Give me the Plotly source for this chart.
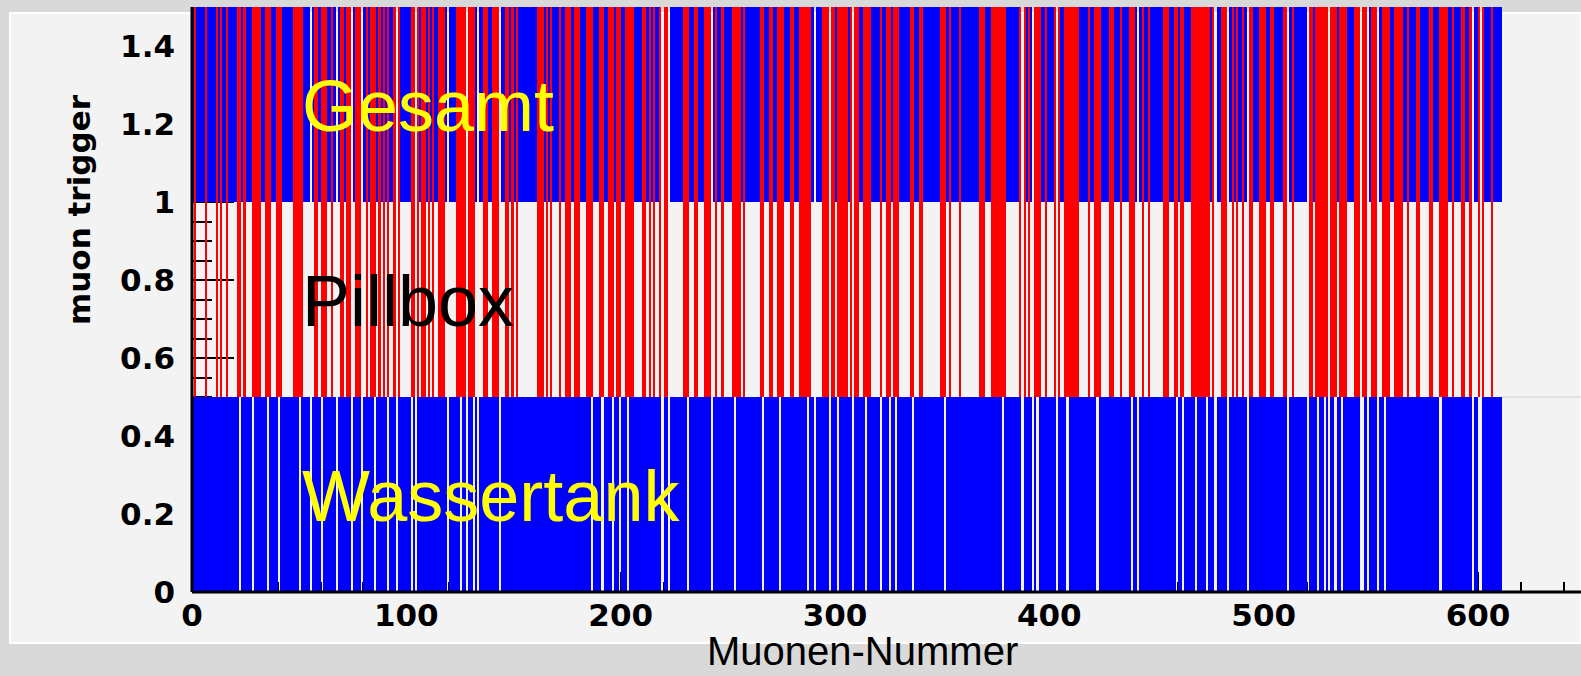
import plotly.graph_objects as go

# ---------------- data ----------------
N_MUONS = 611  # muon numbers 0 .. 610

# muon numbers WITHOUT a water-tank trigger (white gaps in the lower band)
tank_gaps = [22, 28, 35, 40, 50, 55, 60, 67, 74, 79, 85, 91, 95, 102, 104, 119,
             125, 128, 131, 133, 143, 186, 191, 196, 199, 203, 219, 222, 231,
             242, 253, 266, 274, 287, 290, 297, 301, 308, 314, 321, 325, 328,
             336, 351, 378, 387, 392, 394, 403, 408, 422, 438, 441, 459, 462,
             468, 473, 477, 483, 492, 511, 520, 525, 528, 530, 533, 536, 545,
             546, 548, 553, 556, 582, 597, 600, 601]

# pillbox triggers: runs of (first muon number, number of consecutive muons)
pillbox_runs = [(1, 1), (6, 1), (11, 1), (13, 1), (16, 1), (21, 2), (24, 1),
                (28, 4), (34, 3), (39, 3), (47, 2), (49, 3), (57, 2), (60, 3),
                (65, 1), (69, 2), (72, 2), (76, 3), (81, 1), (83, 3), (87, 1),
                (89, 1), (91, 1), (94, 1), (96, 1), (102, 2), (105, 1), (107, 2),
                (110, 1), (112, 1), (115, 3), (123, 4), (127, 1), (129, 3),
                (136, 2), (140, 3), (146, 2), (149, 1), (151, 1), (161, 3),
                (165, 1), (167, 1), (171, 1), (174, 3), (178, 3), (184, 3),
                (190, 2), (194, 3), (198, 2), (202, 4), (210, 2), (213, 1),
                (215, 1), (218, 1), (220, 2), (229, 3), (234, 2), (239, 3),
                (244, 1), (247, 1), (252, 4), (257, 1), (265, 2), (269, 2),
                (273, 3), (279, 2), (283, 6), (294, 3), (298, 2), (301, 5),
                (307, 1), (309, 2), (313, 4), (321, 1), (324, 2), (327, 3),
                (335, 2), (339, 2), (349, 3), (353, 1), (358, 1), (367, 3),
                (373, 7), (386, 1), (388, 1), (390, 1), (393, 3), (398, 1),
                (402, 1), (404, 1), (407, 7), (418, 1), (421, 3), (428, 2),
                (433, 1), (437, 3), (443, 1), (446, 1), (453, 3), (458, 2),
                (461, 2), (466, 9), (476, 1), (480, 3), (485, 1), (487, 1),
                (490, 1), (493, 2), (498, 3), (503, 2), (509, 2), (513, 1),
                (521, 2), (524, 6), (531, 3), (535, 4), (542, 3), (546, 2),
                (550, 3), (555, 2), (557, 2), (561, 4), (567, 1), (571, 2),
                (577, 2), (582, 4), (588, 1), (592, 2), (596, 1), (600, 1),
                (602, 1), (606, 1)]

band_labels = ["Wassertank", "Pillbox", "Gesamt"]
y_ticks = [0, 0.2, 0.4, 0.6, 0.8, 1.0, 1.2, 1.4]
y_ticktext = ["0", "0.2", "0.4", "0.6", "0.8", "1", "1.2", "1.4"]
x_ticks = [0, 100, 200, 300, 400, 500, 600]

# ---------------- derived per-muon flags ----------------
tank = [1] * N_MUONS
for g in tank_gaps:
    tank[g] = 0
pill = [0] * N_MUONS
for s, n in pillbox_runs:
    for i in range(s, s + n):
        pill[i] = 1
gesamt_blue = [1 if (tank[i] and not pill[i]) else 0 for i in range(N_MUONS)]


def runs(flags):
    """merge consecutive triggered muons into (start, length) runs"""
    out, i = [], 0
    while i < len(flags):
        if flags[i]:
            j = i
            while j < len(flags) and flags[j]:
                j += 1
            out.append((i, j - i))
            i = j
        else:
            i += 1
    return out


def bar(flags, base, color, name):
    r = runs(flags)
    return go.Bar(
        x=[s + n / 2 for s, n in r], width=[n for s, n in r],
        y=[0.5] * len(r), base=[base] * len(r),
        marker=dict(color=color, line=dict(width=0)),
        name=name, showlegend=False, hoverinfo="skip")


BLUE, RED = "#0000ff", "#ff0000"
fig = go.Figure()
fig.add_trace(bar(tank, 0.0, BLUE, "Wassertank"))
fig.add_trace(bar(pill, 0.5, RED, "Pillbox"))
fig.add_trace(bar(gesamt_blue, 1.0, BLUE, "Gesamt"))
fig.add_trace(bar(pill, 1.0, RED, "Gesamt"))

W, H = 1581, 676
L, R, T, B = 192, 0, 7, 84
pw, ph = W - L - R, H - T - B
XMAX = (W - L) / (1478 - L) * 600


def px(xpix):
    return (xpix - L) / pw


def py(ypix):
    return (H - B - ypix) / ph


tickfont = dict(family="DejaVu Sans", size=31, color="black", weight="bold")

fig.update_layout(
    width=W, height=H,
    margin=dict(l=L, r=R, t=T, b=B, pad=0, autoexpand=False),
    paper_bgcolor="#d9d9d9",
    plot_bgcolor="rgba(0,0,0,0)",
    barmode="overlay", bargap=0,
    xaxis=dict(range=[0, XMAX], showgrid=False, zeroline=False, automargin=False,
               showline=False, tickvals=x_ticks, ticks="inside", ticklen=20,
               tickwidth=2, tickcolor="black", layer="below traces",
               minor=dict(dtick=20, ticks="inside", ticklen=10, tickwidth=2,
                          tickcolor="black"),
               tickfont=tickfont, ticklabelstandoff=2, fixedrange=True),
    yaxis=dict(range=[0, 1.5], showgrid=False, zeroline=False, showline=False,
               automargin=False,
               tickvals=y_ticks, ticktext=y_ticktext, ticks="inside", ticklen=42,
               tickwidth=2, tickcolor="black", layer="below traces",
               minor=dict(dtick=0.05, ticks="inside", ticklen=20, tickwidth=2,
                          tickcolor="black"),
               tickfont=tickfont, ticklabelstandoff=16, fixedrange=True),
    shapes=[
        # light slide panel
        dict(type="rect", xref="paper", yref="paper", x0=px(10), x1=1.0,
             y0=py(643), y1=py(13), fillcolor="#f3f3f3",
             line=dict(color="white", width=2), layer="below"),
        # axis lines
        dict(type="line", xref="paper", yref="paper", x0=0, x1=1, y0=0, y1=0,
             line=dict(color="black", width=3), layer="above"),
        dict(type="line", xref="paper", yref="paper", x0=0, x1=0, y0=0, y1=1,
             line=dict(color="black", width=3), layer="above"),
        dict(type="line", xref="x", yref="y", x0=N_MUONS, x1=XMAX,
             y0=0.5, y1=0.5, line=dict(color="#d0d0d0", width=1), layer="below"),
    ],
    annotations=[
        dict(text=band_labels[2], x=50.3, y=1.245, xref="x", yref="y",
             xanchor="left", yanchor="middle", showarrow=False,
             font=dict(family="Liberation Sans", size=72, color="#ffff00")),
        dict(text=band_labels[1], x=50.3, y=0.745, xref="x", yref="y",
             xanchor="left", yanchor="middle", showarrow=False,
             font=dict(family="Liberation Sans", size=72, color="black")),
        dict(text=band_labels[0], x=50.3, y=0.245, xref="x", yref="y",
             xanchor="left", yanchor="middle", showarrow=False,
             font=dict(family="Liberation Sans", size=72, color="#ffff00")),
        dict(text="muon trigger", x=px(79), y=py(210), xref="paper", yref="paper",
             xanchor="center", yanchor="middle", textangle=-90, showarrow=False,
             font=dict(family="DejaVu Sans", size=31, color="black", weight="bold")),
        dict(text="Muonen-Nummer", x=px(862), y=py(651), xref="paper", yref="paper",
             xanchor="center", yanchor="middle", showarrow=False, borderpad=0,
             font=dict(family="Liberation Sans", size=40, color="black")),
    ],
)

fig.write_html("out.html",
               config={"displayModeBar": False},
               post_script="document.body.style.margin='0';"
                           "document.body.style.overflow='hidden';")
